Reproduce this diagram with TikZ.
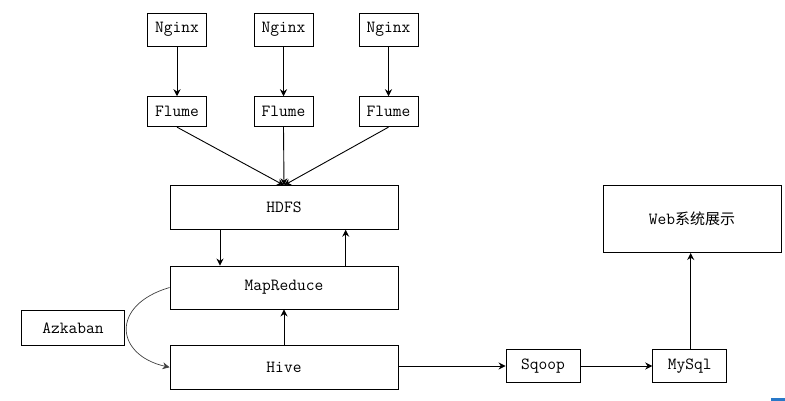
\documentclass[tikz,border=0pt]{standalone}
\usepackage{fontspec}
\newfontfamily\cjk{Noto Sans CJK SC}
\usetikzlibrary{arrows.meta}
\begin{document}
\begin{tikzpicture}[x=1pt,y=-1pt,
  box/.style={draw=black,line width=0.9pt,inner sep=0pt,font=\ttfamily\fontsize{17}{19}\selectfont},
  conn/.style={draw=black,line width=0.9pt,-{Stealth[length=7pt,width=7pt]}},
  curv/.style={draw=black!75,line width=0.7pt,-{Stealth[length=7pt,width=7pt]}}]
\useasboundingbox (0,0) rectangle (785,401);
% top row
\node[box,minimum width=59pt,minimum height=33pt] (n1) at (177,29.5) {Nginx};
\node[box,minimum width=59pt,minimum height=33pt] (n2) at (283.5,29.5) {Nginx};
\node[box,minimum width=59pt,minimum height=33pt] (n3) at (388.5,29.5) {Nginx};
\node[box,minimum width=59pt,minimum height=30pt] (f1) at (177,111.7) {Flume};
\node[box,minimum width=59pt,minimum height=30pt] (f2) at (283.5,111.7) {Flume};
\node[box,minimum width=59pt,minimum height=30pt] (f3) at (388.5,111.7) {Flume};
\node[box,minimum width=228pt,minimum height=43.5pt] (hdfs) at (284,207.5) {HDFS};
\node[box,minimum width=228pt,minimum height=43pt] (mr) at (284,287.5) {MapReduce};
\node[box,minimum width=228pt,minimum height=43.5pt] (hive) at (284,367.3) {Hive};
\node[box,minimum width=102.5pt,minimum height=35.5pt] (az) at (73,327.8) {Azkaban};
\node[box,minimum width=74pt,minimum height=33.5pt] (sq) at (543,366) {Sqoop};
\node[box,minimum width=74pt,minimum height=33.5pt] (my) at (689.7,366) {MySql};
\node[box,minimum width=178pt,minimum height=67pt] (web) at (692,219) {Web{\cjk\fontsize{15}{17}\selectfont 系统展示}};
% connectors
\draw[conn] (n1) -- (f1);
\draw[conn] (n2) -- (f2);
\draw[conn] (n3) -- (f3);
\draw[conn] (f1.south) -- (hdfs.north);
\draw[conn] (f2.south) -- (hdfs.north);
\draw[conn] (f3.south) -- (hdfs.north);
\draw[conn] (hdfs.south -| 220,0) -- (mr.north -| 220,0);
\draw[conn] (mr.north -| 345.7,0) -- (hdfs.south -| 345.7,0);
\draw[conn] (hive) -- (mr);
\draw[curv] (mr.west) .. controls (110,305) and (115,355) .. (hive.west);
\draw[conn] (hive.east |- sq.west) -- (sq.west);
\draw[conn] (sq) -- (my);
\draw[conn] (my.north -| 690.7,0) -- (web.south -| 690.7,0);
% corner mark
\fill[color={rgb,255:red,40;green,120;blue,200}] (771,397.5) rectangle (785,401);
\end{tikzpicture}
\end{document}
